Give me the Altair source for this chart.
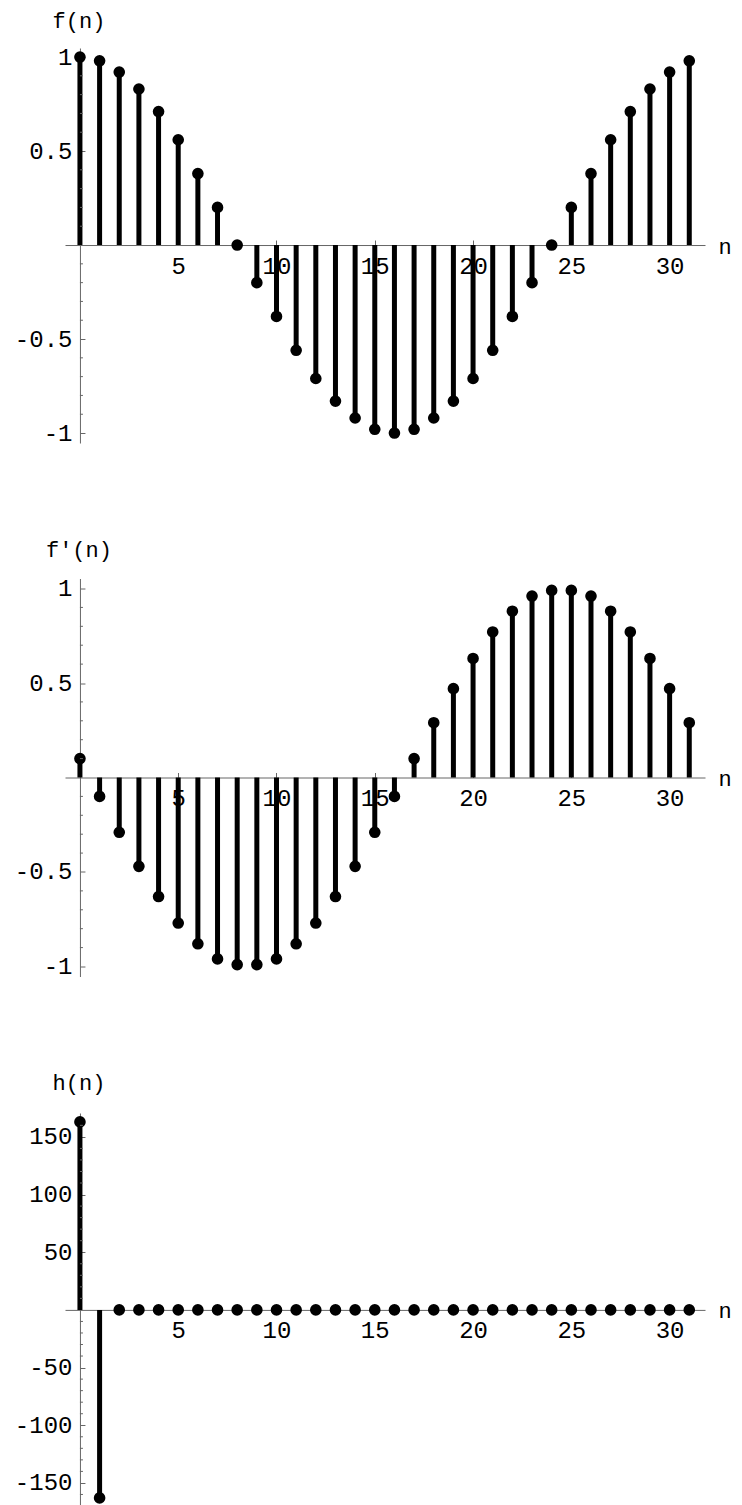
import altair as alt
import pandas as pd

n_values = list(range(32))
f_values = [1.0, 0.98, 0.92, 0.83, 0.71, 0.56, 0.38, 0.2, 0.0, -0.2, -0.38, -0.56,
            -0.71, -0.83, -0.92, -0.98, -1.0, -0.98, -0.92, -0.83, -0.71, -0.56,
            -0.38, -0.2, 0.0, 0.2, 0.38, 0.56, 0.71, 0.83, 0.92, 0.98]
fp_values = [0.1, -0.1, -0.29, -0.47, -0.63, -0.77, -0.88, -0.96, -0.99, -0.99,
             -0.96, -0.88, -0.77, -0.63, -0.47, -0.29, -0.1, 0.1, 0.29, 0.47,
             0.63, 0.77, 0.88, 0.96, 0.99, 0.99, 0.96, 0.88, 0.77, 0.63, 0.47, 0.29]
h_values = [163, -163, 0, 0, 0, 0, 0, 0, 0, 0, 0, 0, 0, 0, 0, 0,
            0, 0, 0, 0, 0, 0, 0, 0, 0, 0, 0, 0, 0, 0, 0, 0]

x_ticks = [5, 10, 15, 20, 25, 30]
unit_major = [-1, -0.5, 0.5, 1]
unit_minor = [-0.9, -0.8, -0.7, -0.6, -0.4, -0.3, -0.2, -0.1,
              0.1, 0.2, 0.3, 0.4, 0.6, 0.7, 0.8, 0.9]
h_major = [-150, -100, -50, 50, 100, 150]
h_minor = [-160, -140, -130, -120, -110, -90, -80, -70, -60, -40, -30, -20, -10,
           10, 20, 30, 40, 60, 70, 80, 90, 110, 120, 130, 140, 160]

FONT = "Liberation Mono"
AXC = "#666666"
W = 640
XDOM = [-0.76, 31.8]
TFS = 22


def panel(values, title, ydom, H, major, minor, title_y):
    df = pd.DataFrame({"n": n_values, "v": values, "zero": [0] * len(values)})
    zx = W * (0 - XDOM[0]) / (XDOM[1] - XDOM[0])
    zy = H * (ydom[1] - 0) / (ydom[1] - ydom[0])
    xs = alt.Scale(domain=XDOM, nice=False, zero=False)
    ys = alt.Scale(domain=ydom, nice=False, zero=False)
    base = alt.Chart(df)

    stems = base.mark_rule(strokeWidth=5, color="black").encode(
        x=alt.X("n:Q", scale=xs, axis=alt.Axis(
            orient="top", offset=-zy, labels=False, ticks=True, tickSize=5,
            tickColor=AXC, domain=True, domainColor=AXC, values=x_ticks,
            grid=False, title=None)),
        y=alt.Y("v:Q", scale=ys, axis=alt.Axis(
            orient="right", offset=-(W - zx), labels=False, ticks=True,
            tickSize=5, tickColor=AXC, domain=True, domainColor=AXC,
            values=major, grid=False, title=None)),
        y2="zero:Q",
    )

    dots = base.mark_circle(size=135, color="black", opacity=1).encode(
        x=alt.X("n:Q", scale=xs, axis=alt.Axis(
            orient="bottom", offset=-(H - zy), labels=True, ticks=False,
            tickSize=0, domain=False, values=x_ticks, grid=False,
            labelFont=FONT, labelFontSize=24, labelColor="black",
            labelPadding=9, labelExpr="datum.value + ''",
            title="n", titleX=653, titleY=8, titleAlign="left",
            titleBaseline="alphabetic", titleAngle=0, titleFont=FONT,
            titleFontSize=TFS, titleFontWeight="normal", titleColor="black")),
        y=alt.Y("v:Q", scale=ys, axis=alt.Axis(
            orient="left", offset=-zx, labels=True, ticks=False, tickSize=0,
            domain=False, values=major, grid=False,
            labelFont=FONT, labelFontSize=24, labelColor="black",
            labelPadding=8, labelExpr="datum.value + ''",
            title=title, titleX=-1.5, titleY=title_y, titleAlign="center",
            titleBaseline="alphabetic", titleAngle=0, titleFont=FONT,
            titleFontSize=TFS, titleFontWeight="normal", titleColor="black")),
    )

    tick_len = 3 * (XDOM[1] - XDOM[0]) / W
    mdf = pd.DataFrame({"t": minor, "a": [0] * len(minor),
                        "b": [tick_len] * len(minor)})
    minor_ticks = alt.Chart(mdf).mark_rule(strokeWidth=1, color=AXC).encode(
        x=alt.X("a:Q", scale=xs, axis=None),
        x2="b:Q",
        y=alt.Y("t:Q", scale=ys, axis=None),
    )

    return alt.layer(stems, dots, minor_ticks).resolve_axis(
        x="independent", y="independent"
    ).properties(width=W, height=H)


p1 = panel(f_values, "f(n)", [-1.053, 1.048], 395, unit_major, unit_minor, -20.6)
p2 = panel(fp_values, "f'(n)", [-1.053, 1.053], 398, unit_major, unit_minor, -22)
p3 = panel(h_values, "h(n)", [-170, 170.7], 393, h_major, h_minor, -24)

chart = alt.vconcat(p1, p2, p3, spacing=92.5).properties(
    padding={"left": 6, "top": 1, "right": 0, "bottom": 0}
).configure_view(stroke=None)

chart.save("out.html", embed_options={"renderer": "svg", "actions": False})
